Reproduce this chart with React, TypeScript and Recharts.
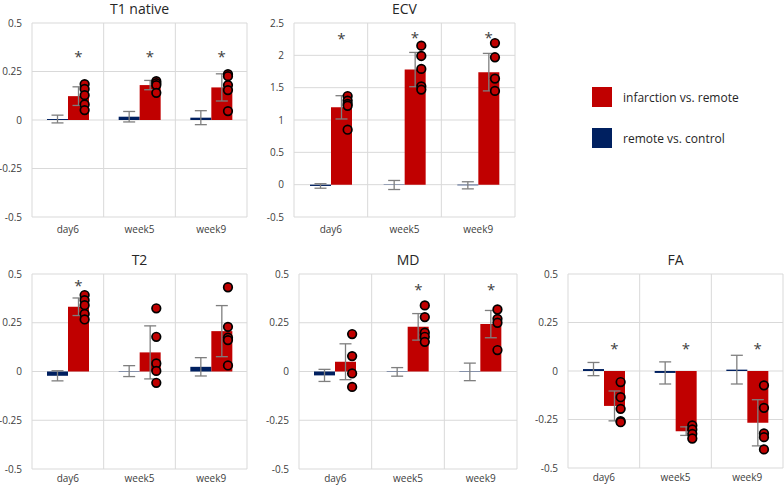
import React from "react";
import {
  ComposedChart,
  Bar,
  ErrorBar,
  Scatter,
  XAxis,
  YAxis,
  CartesianGrid,
} from "recharts";

const categories = ["day6", "week5", "week9"];

// T1 native
const t1Red = [0.123, 0.18, 0.168];
const t1RedErr = [0.048, 0.024, 0.07];
const t1Blue = [0.005, 0.017, 0.012];
const t1BlueErr = [0.02, 0.027, 0.036];
const t1Dots = [
  [0.185, 0.16, 0.128, 0.08, 0.051],
  [0.2, 0.19, 0.18, 0.14],
  [0.236, 0.226, 0.18, 0.154, 0.046],
];
const t1Sig = [0.334, 0.334, 0.334];

// ECV
const ecvRed = [1.196, 1.78, 1.74];
const ecvRedErr = [0.18, 0.265, 0.29];
const ecvBlue = [-0.02, -0.005, -0.01];
const ecvBlueErr = [0.035, 0.07, 0.055];
const ecvDots = [
  [1.37, 1.3, 1.25, 1.22, 0.85],
  [2.15, 1.99, 1.79, 1.52, 1.47],
  [2.19, 1.97, 1.64, 1.45],
];
const ecvSig = [2.29, 2.3, 2.3];

// T2
const t2Red = [0.332, 0.098, 0.207];
const t2RedErr = [0.045, 0.136, 0.131];
const t2Blue = [-0.022, 0.002, 0.024];
const t2BlueErr = [0.026, 0.028, 0.047];
const t2Dots = [
  [0.392, 0.366, 0.34, 0.295, 0.267],
  [0.324, 0.178, 0.041, 0.003, -0.058],
  [0.432, 0.229, 0.173, 0.161, 0.031],
];
const t2Sig = [0.447, null, null];

// MD
const mdRed = [0.05, 0.229, 0.243];
const mdRedErr = [0.092, 0.068, 0.07];
const mdBlue = [-0.02, -0.002, -0.002];
const mdBlueErr = [0.031, 0.022, 0.045];
const mdDots = [
  [0.192, 0.079, -0.01, -0.079],
  [0.339, 0.279, 0.199, 0.178, 0.152],
  [0.318, 0.27, 0.25, 0.11],
];
const mdSig = [null, 0.43, 0.43];

// FA
const faRed = [-0.18, -0.31, -0.267];
const faRedErr = [0.077, 0.022, 0.119];
const faBlue = [0.01, -0.01, 0.007];
const faBlueErr = [0.034, 0.057, 0.074];
const faDots = [
  [-0.057, -0.135, -0.195, -0.259, -0.264],
  [-0.281, -0.301, -0.324, -0.348],
  [-0.074, -0.19, -0.322, -0.341, -0.404],
];
const faSig = [0.123, 0.123, 0.123];

const smallTicks = [-0.5, -0.25, 0, 0.25, 0.5];
const ecvTicks = [-0.5, 0, 0.5, 1, 1.5, 2, 2.5];

const RED = "#c00000";
const BLUE = "#002060";
const GRID = "#d9d9d9";
const ERR = "#7f7f7f";
const FONT = "'Open Sans', sans-serif";

const BAR = 21;

type PanelProps = {
  title: string;
  red: number[];
  redErr: number[];
  blue: number[];
  blueErr: number[];
  dots: number[][];
  sig: (number | null)[];
  ticks: number[];
  box: [number, number, number, number];
  bottomRow?: boolean;
};

const Panel: React.FC<PanelProps> = ({
  title,
  red,
  redErr,
  blue,
  blueErr,
  dots,
  sig,
  ticks,
  box,
  bottomRow,
}) => {
  const [x0, y0, x1, y1] = box;
  const yw = 40;
  const mt = 10;
  const xh = bottomRow ? 16 : 25;
  const width = x1 - x0 + yw + 1;
  const height = y1 - y0 + mt + xh;

  const data = categories.map((cat, i) => ({
    cat,
    blue: blue[i],
    blueErr: blueErr[i],
    red: red[i],
    redErr: redErr[i],
  }));
  const dotData = categories.flatMap((cat, i) =>
    dots[i].map((v) => ({ cat, v }))
  );
  const sigData = categories
    .map((cat, i) => ({ cat, v: sig[i] }))
    .filter((d) => d.v !== null);

  return (
    <>
      <div
        style={{
          position: "absolute",
          left: x0,
          width: x1 - x0,
          top: y0 - 22,
          textAlign: "center",
          fontFamily: FONT,
          fontSize: 14,
          color: "#262626",
          lineHeight: "15px",
        }}
      >
        {title}
      </div>
      <div style={{ position: "absolute", left: x0 - yw, top: y0 - mt }}>
        <ComposedChart
          width={width}
          height={height}
          data={data}
          margin={{ top: mt, right: 1, bottom: 0, left: 0 }}
          barGap={0}
        >
          <CartesianGrid
            stroke={GRID}
            strokeWidth={1}
            verticalCoordinatesGenerator={({ offset }: any) =>
              categories
                .map((_, k) => offset.left + (offset.width * k) / categories.length)
                .concat([offset.left + offset.width])
            }
          />
          <XAxis
            dataKey="cat"
            allowDuplicatedCategory={false}
            axisLine={false}
            tickLine={false}
            height={xh}
            tickMargin={bottomRow ? 0 : 3}
            tick={{ fontSize: 10, fill: "#404040", fontFamily: FONT }}
          />
          <YAxis
            width={yw}
            domain={[ticks[0], ticks[ticks.length - 1]]}
            ticks={ticks}
            axisLine={false}
            tickLine={false}
            tickMargin={4}
            interval={0}
            tick={{ fontSize: 10, fill: "#404040", fontFamily: FONT }}
          />
          <Bar dataKey="blue" fill={BLUE} barSize={BAR} isAnimationActive={false}>
            <ErrorBar dataKey="blueErr" width={6} stroke={ERR} strokeWidth={1.3} direction="y" />
          </Bar>
          <Bar dataKey="red" fill={RED} barSize={BAR} isAnimationActive={false}>
            <ErrorBar dataKey="redErr" width={6} stroke={ERR} strokeWidth={1.3} direction="y" />
          </Bar>
          <Scatter
            data={dotData}
            dataKey="v"
            isAnimationActive={false}
            shape={(p: any) => (
              <circle
                cx={p.cx + BAR * 0.8}
                cy={p.cy}
                r={4.3}
                fill={RED}
                stroke="#000"
                strokeWidth={1.7}
              />
            )}
          />
          <Scatter
            data={sigData}
            dataKey="v"
            isAnimationActive={false}
            shape={(p: any) => (
              <text
                x={p.cx + BAR / 2}
                y={p.cy + 7}
                textAnchor="middle"
                fontSize={15}
                fontFamily={FONT}
                fill="#404040"
              >
                *
              </text>
            )}
          />
        </ComposedChart>
      </div>
    </>
  );
};

const legendItems = [
  { label: "infarction vs. remote", color: RED },
  { label: "remote vs. control", color: BLUE },
];

export default function App() {
  return (
    <div
      style={{
        position: "absolute",
        left: 0,
        top: 0,
        width: 784,
        height: 485,
        background: "#fff",
        overflow: "hidden",
      }}
    >
      <Panel title="T1 native" red={t1Red} redErr={t1RedErr} blue={t1Blue} blueErr={t1BlueErr} dots={t1Dots} sig={t1Sig} ticks={smallTicks} box={[32, 23, 247, 217]} />
      <Panel title="ECV" red={ecvRed} redErr={ecvRedErr} blue={ecvBlue} blueErr={ecvBlueErr} dots={ecvDots} sig={ecvSig} ticks={ecvTicks} box={[294, 23, 515, 217]} />
      <Panel title="T2" red={t2Red} redErr={t2RedErr} blue={t2Blue} blueErr={t2BlueErr} dots={t2Dots} sig={t2Sig} ticks={smallTicks} box={[32, 274, 247, 469]} bottomRow />
      <Panel title="MD" red={mdRed} redErr={mdRedErr} blue={mdBlue} blueErr={mdBlueErr} dots={mdDots} sig={mdSig} ticks={smallTicks} box={[299, 274, 517, 469]} bottomRow />
      <Panel title="FA" red={faRed} redErr={faRedErr} blue={faBlue} blueErr={faBlueErr} dots={faDots} sig={faSig} ticks={smallTicks} box={[568, 274, 783, 468]} bottomRow />
      {legendItems.map((item, i) => (
        <div
          key={item.label}
          style={{
            position: "absolute",
            left: 592,
            top: 87 + i * 41,
            height: 20,
            display: "flex",
            alignItems: "center",
            fontFamily: FONT,
            fontSize: 12,
            color: "#262626",
          }}
        >
          <div style={{ width: 20, height: 20, background: item.color, marginRight: 11 }} />
          {item.label}
        </div>
      ))}
    </div>
  );
}
